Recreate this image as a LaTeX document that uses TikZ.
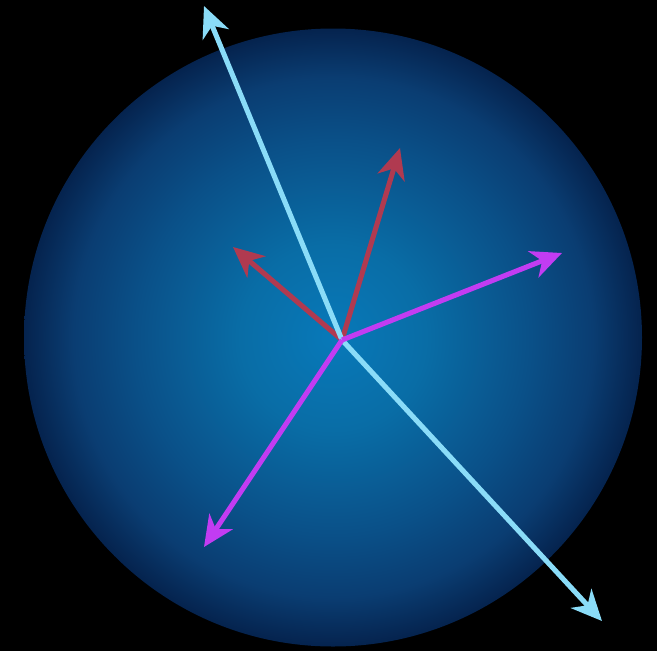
\documentclass[tikz,border=0pt]{standalone}
\usetikzlibrary{arrows.meta}
\definecolor{vblue}{HTML}{8ADCF8}
\definecolor{vred}{HTML}{B03A50}
\definecolor{vpurple}{HTML}{C23CF2}
\definecolor{sphA}{HTML}{0879B9}
\definecolor{sphB}{HTML}{096DA6}
\definecolor{sphC}{HTML}{0A5088}
\definecolor{sphD}{HTML}{0A3D72}
\definecolor{sphE}{HTML}{05234E}
\pgfdeclareradialshading{sphereshade}{\pgfpoint{0bp}{0bp}}{color(0bp)=(sphA); color(7.5bp)=(sphB); color(16bp)=(sphC); color(21bp)=(sphD); color(25bp)=(sphE); color(50bp)=(sphE)}
\tikzset{
  vec/.style={line width=3.8pt, -{Stealth[length=23pt,width=21pt,inset=7pt]}},
}
\begin{document}
\begin{tikzpicture}[x=0.75pt,y=-0.75pt]
\fill[black] (0,0) rectangle (657,651);
\useasboundingbox (0,0) rectangle (657,651);
\shade[shading=sphereshade] (333,337.5) circle (309);
\coordinate (o) at (342,340);
\coordinate (b1) at (204,6);
\coordinate (b2) at (602,621);
\coordinate (r1) at (400,148);
\coordinate (r2) at (233,247);
\coordinate (p1) at (562,253);
\coordinate (p2) at (204,547);
\draw[vec, vred] (o) -- (r1);
\draw[vec, vred] (o) -- (r2);
\draw[vec, vblue] (o) -- (b1);
\draw[vec, vblue] (o) -- (b2);
\draw[vec, vpurple] (o) -- (p1);
\draw[vec, vpurple] (o) -- (p2);
\end{tikzpicture}
\end{document}
